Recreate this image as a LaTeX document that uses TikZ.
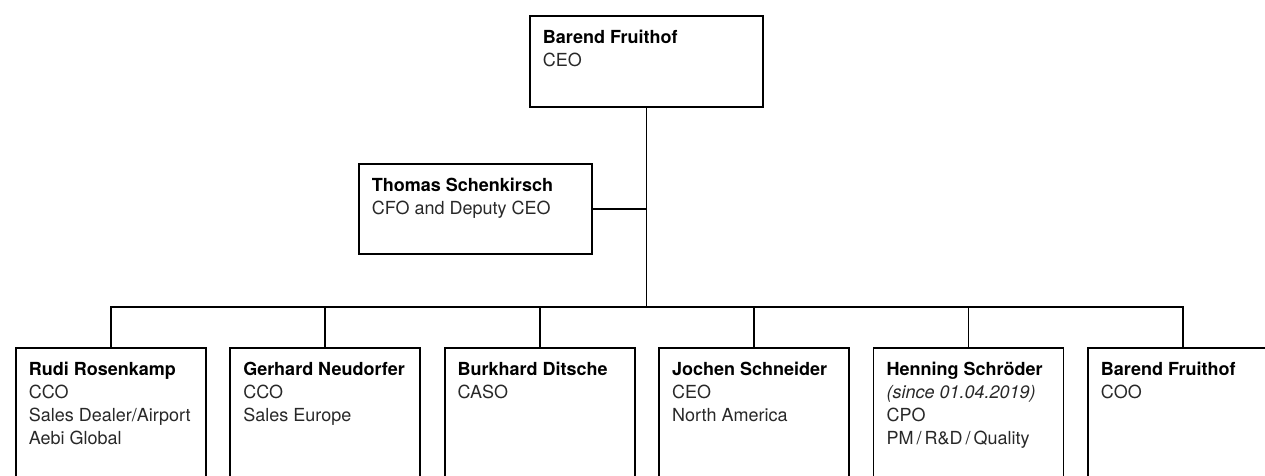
\documentclass[tikz,border=0pt]{standalone}
\usepackage{fontspec}
\setmainfont{TeX Gyre Heros}
\usetikzlibrary{positioning}
\definecolor{txtgray}{RGB}{40,40,40}
\newcommand{\pname}[1]{\textcolor{black}{\textbf{#1}}}
\tikzset{
  post/.style={draw, line width=1.8pt, anchor=north west, inner sep=0pt, minimum width=233pt, minimum height=91pt},
  staff/.style={post, minimum width=190pt, minimum height=160pt},
  info/.style={anchor=north west, align=left, inner sep=0pt, text=txtgray, font=\fontsize{18}{23}\selectfont, xshift=13pt, yshift=-14pt},
}
\begin{document}
\begin{tikzpicture}[x=1pt,y=-1pt,line width=1.8pt]
  \useasboundingbox (0,0) rectangle (1265,475);
  \clip (0,0) rectangle (1265,475);
  % board
  \node[post] (ceo) at (529,15) {};
  \node[info] (ceo-t) at (ceo.north west) {\pname{Barend Fruithof}\\CEO};
  \node[post, minimum height=90pt] (cfo) at (358,163) {};
  \node[info] (cfo-t) at (cfo.north west) {\pname{Thomas Schenkirsch}\\CFO and Deputy CEO};
  % management
  \node[staff] (b1) at (15,347) {};
  \node[staff, right=22.6pt of b1] (b2) {};
  \node[staff, right=22.6pt of b2] (b3) {};
  \node[staff, right=22.6pt of b3] (b4) {};
  \node[staff, right=22.6pt of b4] (b5) {};
  \node[staff, right=22.6pt of b5] (b6) {};
  \node[info] (b1-t) at (b1.north west) {\pname{Rudi Rosenkamp}\\CCO\\Sales Dealer/Airport\\Aebi Global};
  \node[info] (b2-t) at (b2.north west) {\pname{Gerhard Neudorfer}\\CCO\\Sales Europe};
  \node[info] (b3-t) at (b3.north west) {\pname{Burkhard Ditsche}\\CASO};
  \node[info] (b4-t) at (b4.north west) {\pname{Jochen Schneider}\\CEO\\North America};
  \node[info] (b5-t) at (b5.north west) {\pname{Henning Schröder}\\\textit{(since 01.04.2019)}\\CPO\\PM\,/\,R\&D\,/\,Quality};
  \node[info] (b6-t) at (b6.north west) {\pname{Barend Fruithof}\\COO};
  % lines
  \coordinate (bus) at (ceo.south |- 0,307);
  \draw (ceo.south) -- (bus);
  \draw (cfo.east) -- (cfo.east -| ceo.south);
  \draw (b1.north) |- (bus);
  \draw (b2.north) |- (bus);
  \draw (b3.north) |- (bus);
  \draw (b4.north) |- (bus);
  \draw (b5.north) |- (bus);
  \draw (b6.north) |- (bus);
\end{tikzpicture}
\end{document}
